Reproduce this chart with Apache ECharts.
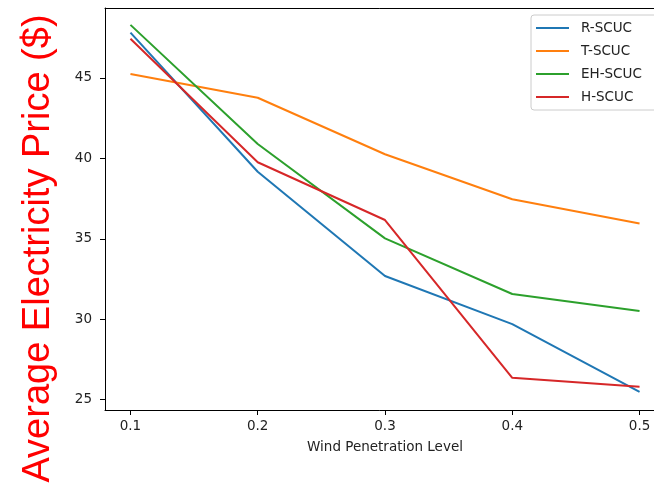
<!DOCTYPE html>
<html>
<head>
<meta charset="utf-8">
<script src="https://cdn.jsdelivr.net/npm/echarts@6/dist/echarts.min.js"></script>
<style>
  html, body { margin: 0; padding: 0; background: #fff; }
  #chart { width: 654px; height: 483px; }
</style>
</head>
<body>
<div id="chart"></div>
<script>
// Wind penetration levels (x values)
const windLevels = [0.1, 0.2, 0.3, 0.4, 0.5];

// Average electricity price per scheduling model
const seriesNames = ['R-SCUC', 'T-SCUC', 'EH-SCUC', 'H-SCUC'];
const rScuc  = [47.82, 39.17, 32.69, 29.70, 25.49];
const tScuc  = [45.25, 43.77, 40.26, 37.46, 35.96];
const ehScuc = [48.30, 40.90, 35.03, 31.57, 30.51];
const hScuc  = [47.44, 39.76, 36.17, 26.36, 25.80];

// Tick labels
const xTicks = [0.1, 0.2, 0.3, 0.4, 0.5];
const yTicks = [25, 30, 35, 40, 45];

const colors = ['#1f77b4', '#ff7f0e', '#2ca02c', '#d62728'];
const values = [rScuc, tScuc, ehScuc, hScuc];

const tickFont = { fontFamily: 'DejaVu Sans', fontSize: 13.5, color: '#222' };

const chart = echarts.init(document.getElementById('chart'), null, { renderer: 'canvas' });

chart.setOption({
  animation: false,
  backgroundColor: '#fff',
  color: colors,
  grid: {
    left: 105, top: 8, right: -11, bottom: 73,
    outerBoundsMode: 'none',
    containLabel: false
  },
  xAxis: [{
    type: 'value',
    min: 0.08, max: 0.52,
    name: 'Wind Penetration Level',
    nameLocation: 'middle',
    nameGap: 30,
    nameTextStyle: { fontFamily: 'DejaVu Sans', fontSize: 13.5, color: '#222' },
    axisLine: { show: true, lineStyle: { color: '#000', width: 1 } },
    axisTick: { show: true, length: 5, lineStyle: { color: '#000' }, customValues: xTicks },
    axisLabel: Object.assign({ margin: 9, customValues: xTicks,
      formatter: v => v.toFixed(1) }, tickFont),
    splitLine: { show: false }
  }, {
    // top frame edge
    type: 'value',
    position: 'top',
    min: 0.08, max: 0.52,
    axisLine: { show: true, onZero: false, lineStyle: { color: '#000', width: 1 } },
    axisTick: { show: false },
    axisLabel: { show: false },
    splitLine: { show: false }
  }],
  yAxis: {
    type: 'value',
    min: 24.36, max: 49.35,
    axisLine: { show: true, onZero: false, lineStyle: { color: '#000', width: 1 } },
    axisTick: { show: true, length: 5, lineStyle: { color: '#000' }, customValues: yTicks },
    axisLabel: Object.assign({ margin: 13, customValues: yTicks }, tickFont),
    splitLine: { show: false }
  },
  legend: {
    orient: 'vertical',
    left: 531, top: 15,
    padding: [6, 30, 6, 5],
    itemGap: 9,
    itemWidth: 33, itemHeight: 2,
    icon: 'rect',
    backgroundColor: 'rgba(255,255,255,0.8)',
    borderColor: '#cccccc', borderWidth: 1, borderRadius: 3,
    selectedMode: false,
    textStyle: { fontFamily: 'DejaVu Sans', fontSize: 13.5, color: '#222',
      lineHeight: 14, padding: [0, 0, 0, 7] },
    data: seriesNames
  },
  graphic: [{
    type: 'text',
    x: 39, y: 248.5,
    rotation: Math.PI / 2,
    style: {
      text: 'Average Electricity Price ($)',
      fill: '#ff0000',
      font: '38px "Liberation Sans"',
      align: 'center',
      verticalAlign: 'middle'
    }
  }],
  series: seriesNames.map((name, i) => ({
    name,
    type: 'line',
    xAxisIndex: 0,
    data: windLevels.map((x, j) => [x, values[i][j]]),
    symbol: 'none',
    lineStyle: { width: 2, color: colors[i] },
    itemStyle: { color: colors[i] },
    z: 2 + i
  }))
});
</script>
</body>
</html>
